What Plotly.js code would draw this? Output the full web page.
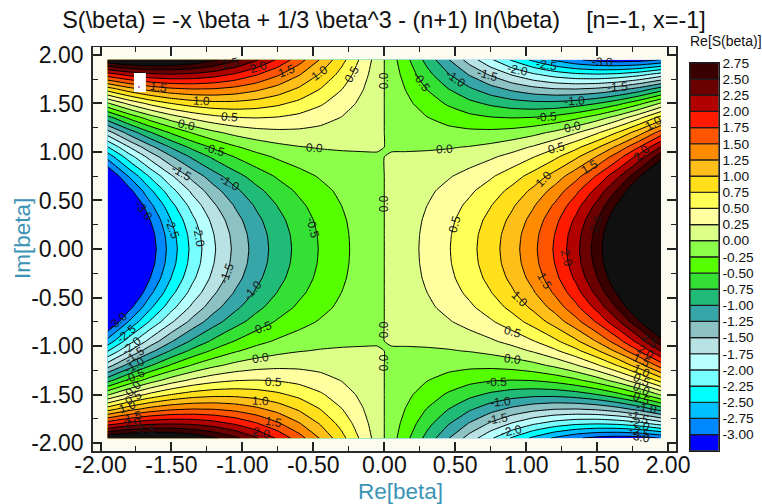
<!DOCTYPE html>
<html><head><meta charset="utf-8">
<script src="https://cdn.plot.ly/plotly-3.0.1.min.js"></script>
<style>html,body{margin:0;padding:0;background:#fff}#c{width:762px;height:504px}</style>
</head><body><div id="c"></div>
<script>
const reBeta = [-1.95,-1.8,-1.65,-1.5,-1.35,-1.2,-1.05,-.9,-.75,-.6,-.45,-.3,-.15,-.05,0,.05,.15,.3,.45,.6,.75,.9,1.05,1.2,1.35,1.5,1.65,1.8,1.95];
const imBeta = [-1.95,-1.8,-1.65,-1.5,-1.35,-1.2,-1.05,-.95,-.75,-.6,-.45,-.3,-.15,0,.15,.3,.45,.6,.75,.95,1.05,1.2,1.35,1.5,1.65,1.8,1.95];
const r195 = [2.993,3.101,3.127,3.079,2.963,2.787,2.557,2.279,1.961,1.61,1.231,.832,.419,.14,0,-.14,-.419,-.832,-1.231,-1.61,-1.961,-2.279,-2.557,-2.787,-2.963,-3.079,-3.127,-3.101,-2.993];
const r180 = [1.896,2.088,2.199,2.235,2.204,2.112,1.966,1.773,1.539,1.272,.978,.663,.335,.112,0,-.112,-.335,-.663,-.978,-1.272,-1.539,-1.773,-1.966,-2.112,-2.204,-2.235,-2.199,-2.088,-1.896];
const r165 = [.887,1.157,1.345,1.459,1.505,1.491,1.423,1.307,1.151,.962,.745,.508,.257,.086,0,-.086,-.257,-.508,-.745,-.962,-1.151,-1.307,-1.423,-1.491,-1.505,-1.459,-1.345,-1.157,-.887];
const r150 = [-.034,.306,.565,.75,.867,.924,.927,.882,.797,.678,.532,.366,.186,.062,0,-.062,-.186,-.366,-.532,-.678,-.797,-.882,-.927,-.924,-.867,-.75,-.565,-.306,.034];
const r135 = [-.868,-.464,-.14,.109,.29,.411,.478,.497,.476,.422,.34,.238,.122,.041,0,-.041,-.122,-.238,-.34,-.422,-.476,-.497,-.478,-.411,-.29,-.109,.14,.464,.868];
const r120 = [-1.614,-1.152,-.771,-.465,-.226,-.048,.076,.153,.189,.192,.168,.123,.065,.022,0,-.022,-.065,-.123,-.168,-.192,-.189,-.153,-.076,.048,.226,.465,.771,1.152,1.614];
const r105 = [-2.272,-1.76,-1.328,-.971,-.682,-.453,-.278,-.151,-.064,-.011,.016,.022,.014,.005,0,-.005,-.014,-.022,-.016,.011,.064,.151,.278,.453,.682,.971,1.328,1.76,2.272];
const r95 = [-2.662,-2.12,-1.658,-1.271,-.952,-.693,-.488,-.331,-.214,-.131,-.074,-.038,-.016,-.005,0,.005,.016,.038,.074,.131,.214,.331,.488,.693,.952,1.271,1.658,2.12,2.662];
const r75 = [-3.325,-2.732,-2.219,-1.781,-1.411,-1.101,-.845,-.637,-.469,-.335,-.227,-.14,-.067,-.022,0,.022,.067,.14,.227,.335,.469,.637,.845,1.101,1.411,1.781,2.219,2.732,3.325];
const r60 = [-3.72,-3.096,-2.553,-2.085,-1.684,-1.344,-1.058,-.819,-.621,-.456,-.318,-.201,-.097,-.032,0,.032,.097,.201,.318,.456,.621,.819,1.058,1.344,1.684,2.085,2.553,3.096,3.72];
const r45 = [-4.027,-3.38,-2.813,-2.321,-1.897,-1.533,-1.223,-.961,-.739,-.551,-.389,-.248,-.121,-.04,0,.04,.121,.248,.389,.551,.739,.961,1.223,1.533,1.897,2.321,2.813,3.38,4.027];
const r30 = [-4.246,-3.582,-2.999,-2.49,-2.049,-1.668,-1.341,-1.062,-.823,-.618,-.44,-.282,-.138,-.046,0,.046,.138,.282,.44,.618,.823,1.062,1.341,1.668,2.049,2.49,2.999,3.582,4.246];
const r15 = [-4.378,-3.704,-3.11,-2.591,-2.14,-1.749,-1.412,-1.123,-.874,-.659,-.47,-.302,-.148,-.049,0,.049,.148,.302,.47,.659,.874,1.123,1.412,1.749,2.14,2.591,3.11,3.704,4.378];
const r0 = [-4.422,-3.744,-3.147,-2.625,-2.17,-1.776,-1.436,-1.143,-.891,-.672,-.48,-.309,-.151,-.05,0,.05,.151,.309,.48,.672,.891,1.143,1.436,1.776,2.17,2.625,3.147,3.744,4.422];
const reS = [r195,r180,r165,r150,r135,r120,r105,r95,r75,r60,r45,r30,r15,r0,r15,r30,r45,r60,r75,r95,r105,r120,r135,r150,r165,r180,r195];

const levels = [-3,-2.75,-2.5,-2.25,-2,-1.75,-1.5,-1.25,-1,-.75,-.5,-.25,0,.25,.5,.75,1,1.25,1.5,1.75,2,2.25,2.5,2.75];
const levelText = ["-3.00","-2.75","-2.50","-2.25","-2.00","-1.75","-1.50","-1.25","-1.00","-0.75","-0.50","-0.25","0.00","0.25","0.50","0.75","1.00","1.25","1.50","1.75","2.00","2.25","2.50","2.75"];
const bandColors = ["#0000ff","#0088ff","#00c0ff","#00ffff","#77ffff","#b8ffff","#b8e2e4","#8cc2c4","#36a6a8","#1fbb77","#33e033","#55ff00","#8cff4a","#dcff88","#ffffa0","#ffff55","#ffe01a","#ffbf1a","#ff8c00","#ff5500","#ff1a00","#b00000","#6a0000","#3a0000","#101010"];
const barBottoms = [-3.25,-3,-2.75,-2.5,-2.25,-2,-1.75,-1.5,-1.25,-1,-.75,-.5,-.25,0,.25,.5,.75,1,1.25,1.5,1.75,2,2.25,2.5];
const barHeights = [.25,.25,.25,.25,.25,.25,.25,.25,.25,.25,.25,.25,.25,.25,.25,.25,.25,.25,.25,.25,.25,.25,.25,.25];
const axisTicks = [-2,-1.5,-1,-.5,0,.5,1,1.5,2];
const axisTickText = ["-2.00","-1.50","-1.00","-0.50","0.00","0.50","1.00","1.50","2.00"];

const labelText = ["1.5","1.0","0.5","0.0","-0.5","-1.0","-1.5","2.5","2.0","1.5","1.0","0.5","0.0","-0.5","-1.0","0.0","0.0","-1.5","-2.0","-2.5","-3.0","-1.5","-1.0","-0.5","0.0","0.5","1.0","2.0","1.5","1.0","-3.0","-2.5","-2.0","-0.5","-1.5","-1.0","-0.5","-3.0","-2.5","-2.0","-1.5","-1.0","-0.5","0.0","0.5","1.0","1.5","2.0","2.5","0.0","0.5","2.5","2.0","1.5","1.0","0.5","0.0","0.0","0.0","0.0","0.5","1.0","1.5","2.0","-0.5","-1.0","-1.5","-2.0","2.5","2.0","1.5","1.0","0.5","0.0","-0.5","-1.0","-1.5","-2.0","-2.5","-3.0"];
const labelRe = [-1.59,-1.285,-1.088,-1.391,-1.194,-1.088,-1.426,-1.081,-.884,-.687,-.454,-.229,0,.264,.504,-.489,.426,.729,.94,1.144,1.539,1.644,1.342,1.144,1.327,1.215,1.898,1.813,1.447,1.123,-1.694,-1.496,-1.306,-.504,-1.109,-.926,-.863,-1.877,-1.82,-1.785,-1.757,-1.757,-1.757,-1.771,-1.771,-1.813,-1.771,-1.778,-1.673,0,.496,1.496,1.285,1.13,.954,.905,.905,0,0,-.87,-.778,-.87,-.778,-.863,.792,.82,.799,.898,1.87,1.842,1.813,1.813,1.813,1.813,1.799,1.849,1.792,1.799,1.799,1.799];
const labelIm = [1.67,1.526,1.361,1.278,1.021,.68,.784,1.918,1.876,1.835,1.814,1.804,1.732,1.722,1.753,1.041,1.031,1.794,1.845,1.897,1.928,1.67,1.526,1.361,1.258,1.041,1.299,.99,.845,.722,.392,.216,.124,.216,-.247,-.423,-.814,-.742,-.876,-.999,-1.093,-1.196,-1.309,-1.443,-1.536,-1.629,-1.732,-1.794,-1.856,.464,.258,.258,-.093,-.33,-.515,-.856,-1.134,-.835,-1.175,-1.124,-1.371,-1.567,-1.784,-1.897,-1.371,-1.577,-1.753,-1.876,-.948,-1.062,-1.144,-1.258,-1.351,-1.443,-1.536,-1.639,-1.732,-1.804,-1.887,-1.938];
const labelTilt = [8,3,5,12,15,30,30,-12,-15,-20,-35,-60,-90,55,35,3,-3,15,12,8,2,-3,-3,-5,-12,-15,-30,-45,-30,-45,55,70,80,75,-70,-50,-20,-40,-40,-40,-35,-30,-25,-45,-30,-20,-15,-10,5,-90,-75,-70,75,60,45,15,7,-90,-90,-8,2,3,10,12,-2,-5,-10,-12,35,30,25,25,25,25,20,10,20,20,15,10];

const W = 762, H = 504, FONT = '"Liberation Sans", Arial, sans-serif';
const colorscale = bandColors.map((c, i) => [i / (bandColors.length - 1), c]);
const frame = {color: '#2a2a2a', width: 1.5};

const contour = {
  type: 'contour', x: reBeta, y: imBeta, z: reS, xaxis: 'x', yaxis: 'y',
  autocontour: false, showscale: false, colorscale,
  contours: {start: levels[0], end: levels[levels.length - 1], size: 0.25, coloring: 'fill', showlines: true},
  line: {color: '#000', width: 1, smoothing: 0.45}, hoverinfo: 'skip'
};
const legendBar = {
  type: 'bar', x: barBottoms.map(() => 0), y: barHeights, base: barBottoms, width: 1, xaxis: 'x2', yaxis: 'y2',
  marker: {color: bandColors.slice(0, 24), line: {color: '#1c1c1c', width: 1.2}}, hoverinfo: 'skip', showlegend: false
};

const axisBase = {
  showline: true, linecolor: frame.color, linewidth: frame.width, mirror: 'ticks', zeroline: false, showgrid: false,
  ticks: 'inside', ticklen: 9, tickwidth: 2, tickcolor: '#222',
  tickmode: 'array', tickvals: axisTicks, ticktext: axisTickText,
  tickfont: {family: FONT, size: 23, color: '#111'},
  minor: {tickmode: 'array', tickvals: [-1.75,-1.25,-.75,-.25,.25,.75,1.25,1.75], ticks: 'inside', ticklen: 5, tickwidth: 1, tickcolor: '#222', showgrid: false}
};

const annotations = labelText.map((t, i) => ({
  text: t, x: labelRe[i], y: labelIm[i], xref: 'x', yref: 'y', showarrow: false,
  textangle: labelTilt[i], xanchor: 'center', yanchor: 'middle', borderpad: 0,
  font: {family: FONT, size: 12, color: '#1a1a1a'}
}));
const titleFont = {family: FONT, size: 22.5, color: '#3b93b5'};
annotations.push({text: 'Re[S(beta)]', x: 726 / W, y: 1 - 41 / H, xref: 'paper', yref: 'paper', showarrow: false, xanchor: 'center', yanchor: 'middle', font: {family: FONT, size: 14, color: '#111'}});
annotations.push({text: 'Re[beta]', x: 400.5 / W, y: 1 - 491 / H, xref: 'paper', yref: 'paper', showarrow: false, xanchor: 'center', yanchor: 'middle', font: titleFont});
annotations.push({text: 'Im[beta]', x: 22 / W, y: 1 - 239 / H, xref: 'paper', yref: 'paper', showarrow: false, xanchor: 'center', yanchor: 'middle', textangle: -90, font: titleFont});

const layout = {
  width: W, height: H, margin: {l: 0, r: 0, t: 0, b: 0}, paper_bgcolor: '#fff', plot_bgcolor: '#fbfbf0', showlegend: false, barmode: 'overlay',
  font: {family: FONT},
  title: {text: 'S(\\beta) = -x \\beta + 1/3 \\beta^3 - (n+1) ln(\\beta) \u00a0\u00a0\u00a0[n=-1, x=-1]', x: 384 / W, xanchor: 'center', y: 1 - 20 / H, yanchor: 'middle', font: {family: FONT, size: 23.4, color: '#111'}},
  xaxis: Object.assign({}, axisBase, {domain: [92.7 / W, 676 / W], range: [-2.055, 2.056], anchor: 'y', ticklabelstandoff: -7}),
  yaxis: Object.assign({}, axisBase, {domain: [1 - 451 / H, 1 - 47 / H], range: [-2.082, 2.082], anchor: 'x', ticklabelstandoff: 3}),
  xaxis2: {domain: [690 / W, 718.7 / W], range: [-.5, .5], anchor: 'y2', showticklabels: false, ticks: '', showgrid: false, zeroline: false, showline: true, linecolor: '#1c1c1c', linewidth: 1, mirror: true, fixedrange: true},
  yaxis2: {domain: [1 - 450.7 / H, 1 - 63 / H], range: [-3.25, 2.75], anchor: 'x2', side: 'right', showgrid: false, zeroline: false, showline: true, linecolor: '#1c1c1c', linewidth: 1, mirror: true, ticks: '', tickmode: 'array', tickvals: levels, ticktext: levelText, tickfont: {family: FONT, size: 13.7, color: '#111'}, fixedrange: true},
  annotations,
  shapes: [
    {type: 'rect', xref: 'x', yref: 'y', x0: -1.764, x1: -1.68, y0: 1.619, y1: 1.814, fillcolor: '#ffffff', line: {width: 0}, layer: 'above'},
    {type: 'circle', xref: 'x', yref: 'y', x0: -1.735, x1: -1.723, y0: 1.66, y1: 1.68, fillcolor: '#b030c0', line: {width: 0}, layer: 'above'}
  ]
};
Plotly.newPlot('c', [contour, legendBar], layout, {staticPlot: true, displayModeBar: false});
</script></body></html>
